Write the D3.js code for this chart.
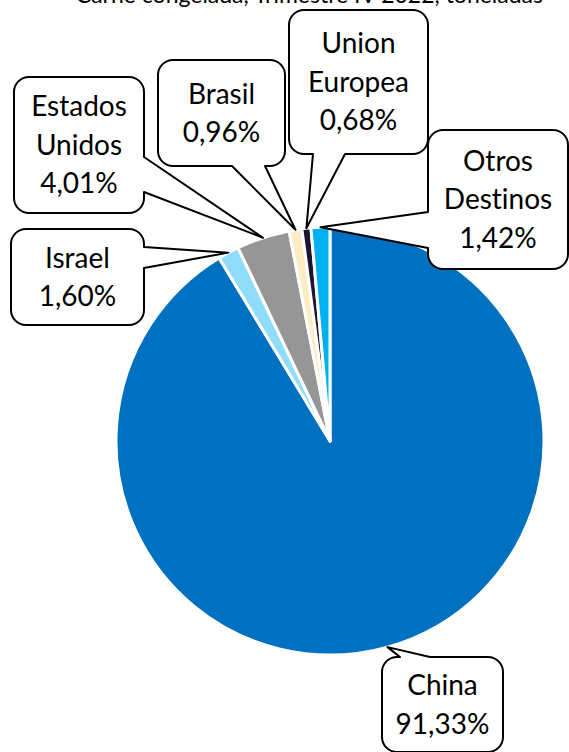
<!DOCTYPE html>
<html>
<head>
<meta charset="utf-8">
<script src="https://cdn.jsdelivr.net/npm/d3@7"></script>
<style>
  body { margin: 0; background: #fff; }
  svg { display: block; }
  text { font-family: Lato, "Open Sans", sans-serif; fill: #000; font-variant-ligatures: none; }
</style>
</head>
<body>
<script>
// datos: exportaciones por destino (% del total)
var destinos = ["China", "Israel", "Estados Unidos", "Brasil", "Union Europea", "Otros Destinos"];
var porcentajes = [91.33, 1.60, 4.01, 0.96, 0.68, 1.42];
var etiquetas = [["China"], ["Israel"], ["Estados", "Unidos"], ["Brasil"], ["Union", "Europea"], ["Otros", "Destinos"]];
var colores = ["#0070C0", "#8FDDFB", "#969696", "#FDEBC3", "#1E1432", "#00B0F0"];

var width = 569, height = 752;
var cx = 330, cy = 441, R = 214;

// caja de cada etiqueta: x, y, w, h, lado del puntero, base del puntero
var cajas = [
    {x: 382, y: 657, w: 121, h: 95, side: "top", b: [400, 430]},
    {x: 11, y: 229, w: 133, h: 96, side: "right", b: [247, 268]},
    {x: 14, y: 77, w: 130, h: 136, side: "right", b: [157, 192]},
    {x: 158, y: 60, w: 127, h: 106, side: "bottom", b: [232, 265]},
    {x: 289, y: 10, w: 139, h: 144, side: "bottom", b: [313, 345]},
    {x: 428, y: 130, w: 140, h: 139, side: "left", b: [212, 248]}
];

var svg = d3.select("body").append("svg")
    .attr("width", width)
    .attr("height", height);

svg.append("text")
    .attr("x", 543)
    .attr("y", 3)
    .attr("text-anchor", "end")
    .style("font-size", "23px")
    .text("Carne congelada, Trimestre IV 2022, toneladas");

var pie = d3.pie().sort(null).value(function(d){ return d; });
var arcs = pie(porcentajes);

var arc = d3.arc().innerRadius(0).outerRadius(R);
var edge = d3.arc().innerRadius(R).outerRadius(R);

var g = svg.append("g").attr("transform", "translate(" + cx + "," + cy + ")");

g.selectAll("path")
    .data(arcs)
    .enter().append("path")
    .attr("d", arc)
    .attr("fill", function(d, i){ return colores[i]; })
    .attr("stroke", "#fff")
    .attr("stroke-width", 3)
    .attr("stroke-linejoin", "round");

function fmt(v){
    return v.toFixed(2).replace(".", ",") + "%";
}

// caja redondeada con puntero hacia (tx, ty)
function bubble(c, tx, ty){
    var x = c.x, y = c.y, w = c.w, h = c.h, r = 15;
    var p = d3.path();
    var b = c.b;
    p.moveTo(x + r, y);
    if(c.side == "top"){ p.lineTo(b[0], y); p.lineTo(tx, ty); p.lineTo(b[1], y); }
    p.lineTo(x + w - r, y);
    p.arcTo(x + w, y, x + w, y + r, r);
    if(c.side == "right"){ p.lineTo(x + w, b[0]); p.lineTo(tx, ty); p.lineTo(x + w, b[1]); }
    p.lineTo(x + w, y + h - r);
    p.arcTo(x + w, y + h, x + w - r, y + h, r);
    if(c.side == "bottom"){ p.lineTo(b[1], y + h); p.lineTo(tx, ty); p.lineTo(b[0], y + h); }
    p.lineTo(x + r, y + h);
    p.arcTo(x, y + h, x, y + h - r, r);
    if(c.side == "left"){ p.lineTo(x, b[1]); p.lineTo(tx, ty); p.lineTo(x, b[0]); }
    p.lineTo(x, y + r);
    p.arcTo(x, y, x + r, y, r);
    p.closePath();
    return p.toString();
}

var lineH = 38.5;

arcs.forEach(function(d, i){
    var c = cajas[i];
    var tip = edge.centroid(d);
    svg.append("path")
        .attr("d", bubble(c, tip[0] + cx, tip[1] + cy))
        .attr("fill", "#fff")
        .attr("stroke", "#000")
        .attr("stroke-width", 2)
        .attr("stroke-linejoin", "round");

    var lines = etiquetas[i].concat([fmt(porcentajes[i])]);
    var mid = c.y + c.h / 2;
    var t0 = mid - (lines.length - 1) * lineH / 2;
    lines.forEach(function(s, k){
        svg.append("text")
            .attr("x", c.x + c.w / 2)
            .attr("y", t0 + k * lineH)
            .attr("dy", "0.35em")
            .attr("text-anchor", "middle")
            .style("font-size", "28px")
            .text(s);
    });
});
</script>
</body>
</html>
